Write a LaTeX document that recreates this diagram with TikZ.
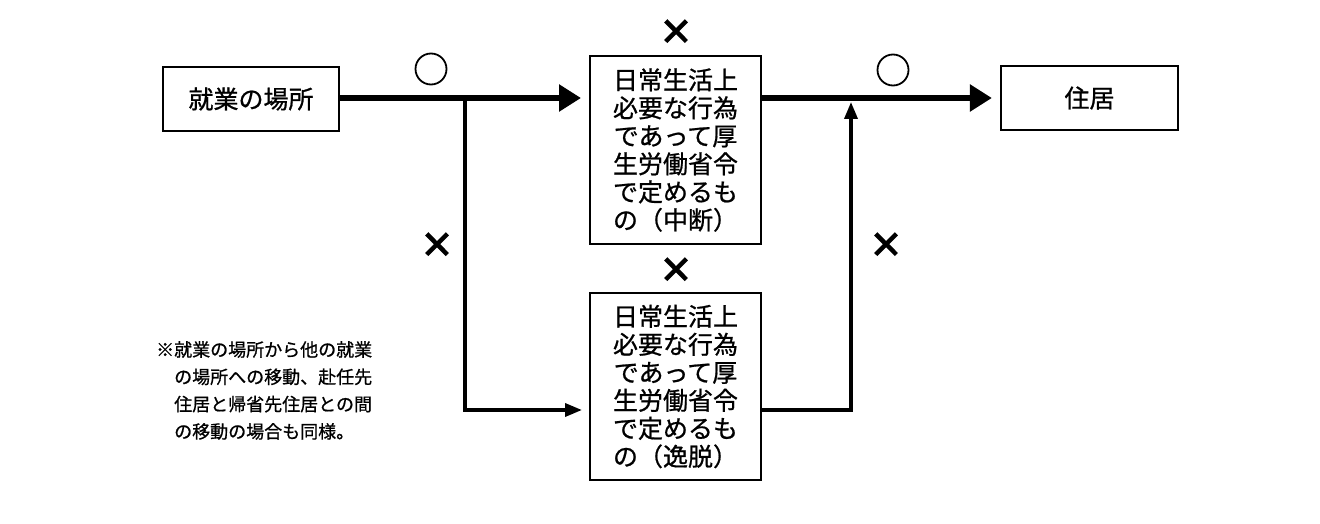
\documentclass[tikz,border=0pt]{standalone}
\usepackage{fontspec}
\newfontfamily\cjk[FakeBold=0.8]{Noto Sans CJK JP}
\newfontfamily\cjkb[FakeBold=7]{Noto Sans CJK JP}
\usetikzlibrary{arrows.meta}
\begin{document}
\begin{tikzpicture}[x=1pt,y=-1pt,
  box/.style={draw,line width=2.2pt,inner sep=0pt,align=center,font=\cjk\fontsize{25}{28}\selectfont},
  tall/.style={box,minimum width=171pt,minimum height=188pt},
  wide/.style={box,minimum width=176pt,minimum height=64pt},
  mainline/.style={line width=5.5pt,-{Triangle[length=22pt,width=26pt]}},
  thinline/.style={line width=3.5pt,-{Triangle[length=17pt,width=13pt]}},
  ok/.style={draw,circle,line width=1.8pt,minimum size=31pt,inner sep=0pt},
  ng/.style={font=\cjkb\fontsize{32}{32}\selectfont,inner sep=0pt}]
\useasboundingbox (0,0) rectangle (1320,524);
\node[wide] (src) at (251,99) {就業の場所};
\node[wide,minimum width=177pt] (home) at (1089.5,98) {住居};
\node[tall] (mid1) at (675.5,150) {日常生活上\\必要な行為\\であって厚\\生労働省令\\で定めるも\\の（中断）};
\node[tall,minimum height=187pt] (mid2) at (675.5,386.5) {日常生活上\\必要な行為\\であって厚\\生労働省令\\で定めるも\\の（逸脱）};
\coordinate (b1) at (465,98);
\coordinate (j) at (851,98);
\coordinate (m2in) at (590,410);
\coordinate (m2out) at (761,410);
\coordinate (m1in) at (590,98);
\coordinate (m1out) at (761,98);
\draw[mainline,shorten >=9pt] (src.east |- b1) -- (m1in);
\draw[mainline,shorten >=8pt] (m1out) -- (home.west);
\draw[thinline,shorten >=8pt] (b1) |- (m2in);
\draw[thinline,shorten >=4pt] (m2out) -| (j);
\node[ok] (c1) at (431,69) {};
\node[ok] (c2) at (893,70) {};
\node[ng] (x1) at (676,32) {×};
\node[ng] (x2) at (676,270) {×};
\node[ng] (x3) at (437,245) {×};
\node[ng] (x4) at (886,245) {×};
\node[anchor=north west,align=left,inner sep=0pt,font=\cjk\fontsize{18}{27.3}\selectfont] (note) at (156,341)
 {※就業の場所から他の就業\\\hspace*{1em}の場所への移動、赴任先\\\hspace*{1em}住居と帰省先住居との間\\\hspace*{1em}の移動の場合も同様。};
\end{tikzpicture}
\end{document}
